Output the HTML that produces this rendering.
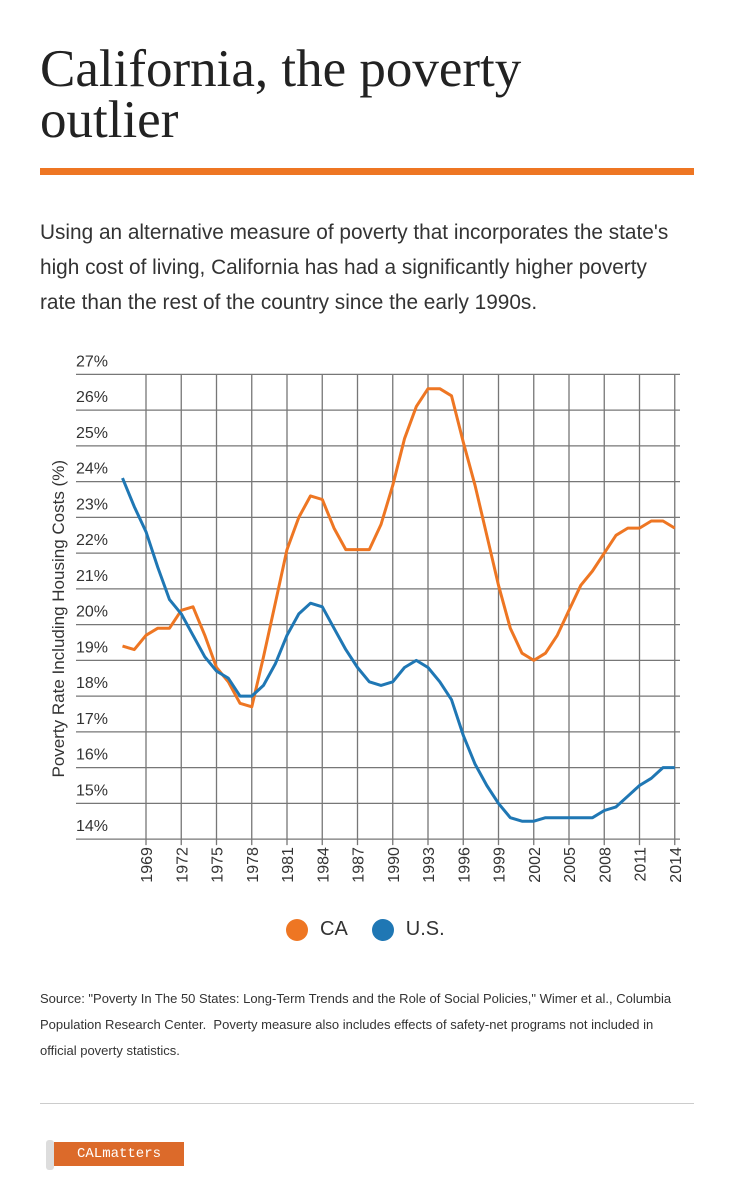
<!DOCTYPE html>
<html><head><meta charset="utf-8"><style>
body{margin:0;background:#fff;width:734px;height:1200px;position:relative;font-family:"Liberation Sans",sans-serif;color:#222;overflow:hidden}
.abs{position:absolute}
</style></head><body>
<div class="abs" style="left:40px;top:44px;width:660px;font-family:'Liberation Serif',serif;font-size:53px;line-height:51px;color:#222">California, the poverty<br>outlier</div>
<div class="abs" style="left:40px;top:168px;width:654px;height:7px;background:#ee7623"></div>
<div class="abs" style="left:40px;top:215px;width:690px;font-size:20.8px;line-height:35px;color:#333;white-space:nowrap">Using an alternative measure of poverty that incorporates the state's<br>high cost of living, California has had a significantly higher poverty<br>rate than the rest of the country since the early 1990s.</div>
<svg class="abs" style="left:0;top:340px" width="734" height="560" id="chart"></svg>
<div class="abs" style="left:286px;top:918px;font-size:20px;color:#333;display:flex;align-items:center">
<span style="display:flex;align-items:center"><span style="width:22px;height:22px;border-radius:50%;background:#ee7623;display:inline-block;margin-right:12px"></span>CA</span>
<span style="display:flex;align-items:center;margin-left:24px"><span style="width:22px;height:22px;border-radius:50%;background:#1f77b4;display:inline-block;margin-right:12px"></span>U.S.</span>
</div>
<div class="abs" style="left:40px;top:986px;width:690px;font-size:13px;line-height:26px;color:#333;white-space:nowrap">Source: "Poverty In The 50 States: Long-Term Trends and the Role of Social Policies," Wimer et al., Columbia<br>Population Research Center.&nbsp; Poverty measure also includes effects of safety-net programs not included in<br>official poverty statistics.</div>
<div class="abs" style="left:40px;top:1103px;width:654px;height:1px;background:#ccc"></div>
<div class="abs" style="left:46px;top:1140px;width:8px;height:30px;background:#ddd;border-radius:3px"></div>
<div class="abs" style="left:54px;top:1142px;width:130px;height:24px;background:#dc6a2a;color:#fff;font-family:'Liberation Mono',monospace;font-size:14px;line-height:24px;text-align:center">CALmatters</div>
<script>
const years=[];for(let y=1967;y<=2014;y++)years.push(y);
const caValues=[19.4,19.3,19.7,19.9,19.9,20.4,20.5,19.7,18.8,18.4,17.8,17.7,19.1,20.6,22.1,23.0,23.6,23.5,22.7,22.1,22.1,22.1,22.8,23.9,25.2,26.1,26.6,26.6,26.4,25.1,23.9,22.5,21.1,19.9,19.2,19.0,19.2,19.7,20.4,21.1,21.5,22.0,22.5,22.7,22.7,22.9,22.9,22.7];
const usValues=[24.1,23.3,22.6,21.6,20.7,20.3,19.7,19.1,18.7,18.5,18.0,18.0,18.3,18.9,19.7,20.3,20.6,20.5,19.9,19.3,18.8,18.4,18.3,18.4,18.8,19.0,18.8,18.4,17.9,16.9,16.1,15.5,15.0,14.6,14.5,14.5,14.6,14.6,14.6,14.6,14.6,14.8,14.9,15.2,15.5,15.7,16.0,16.0];
const yTicks=[14,15,16,17,18,19,20,21,22,23,24,25,26,27];
const xTicks=[1969,1972,1975,1978,1981,1984,1987,1990,1993,1996,1999,2002,2005,2008,2011,2014];
const svg=document.getElementById('chart');const NS='http://www.w3.org/2000/svg';
const X=y=>146+(y-1969)*11.75;
const Y=v=>34.4+(27-v)*(499.1-34.4)/13;
function mk(t,a){const e=document.createElementNS(NS,t);for(const k in a)e.setAttribute(k,a[k]);svg.appendChild(e);return e;}
yTicks.forEach(v=>{
 const l=mk('line',{x1:76,x2:680,y1:Y(v),y2:Y(v),stroke:'#777','stroke-width':1.3});
 
 
 const t=mk('text',{x:76,y:Y(v)-8,'font-size':16,fill:'#333','font-family':'Liberation Sans, sans-serif'});t.textContent=v+'%';
 
 
});
xTicks.forEach(yr=>{
 const l=mk('line',{x1:X(yr),x2:X(yr),y1:Y(27),y2:Y(14)+6,stroke:'#777','stroke-width':1.3});
 
 
 const t=mk('text',{x:0,y:0,'font-size':16,fill:'#333','font-family':'Liberation Sans, sans-serif','text-anchor':'end',transform:`translate(${X(yr)+6},${Y(14)+8}) rotate(-90)`});t.textContent=yr;
 
 
});
const yt=mk('text',{x:0,y:0,'font-size':17,fill:'#333','font-family':'Liberation Sans, sans-serif','text-anchor':'middle',transform:`translate(64,${(Y(27)+Y(14))/2+12}) rotate(-90)`});yt.textContent='Poverty Rate Including Housing Costs (%)';


function line(vals,color,name){
 const d=vals.map((v,i)=>(i?'L':'M')+X(years[i]).toFixed(1)+','+Y(v).toFixed(1)).join('');
 const p=mk('path',{d,fill:'none',stroke:color,'stroke-width':3,'stroke-linejoin':'round'});
 
 
}
line(caValues,'#ee7623','ca-line');
line(usValues,'#1f77b4','us-line');
</script>
</body></html>
